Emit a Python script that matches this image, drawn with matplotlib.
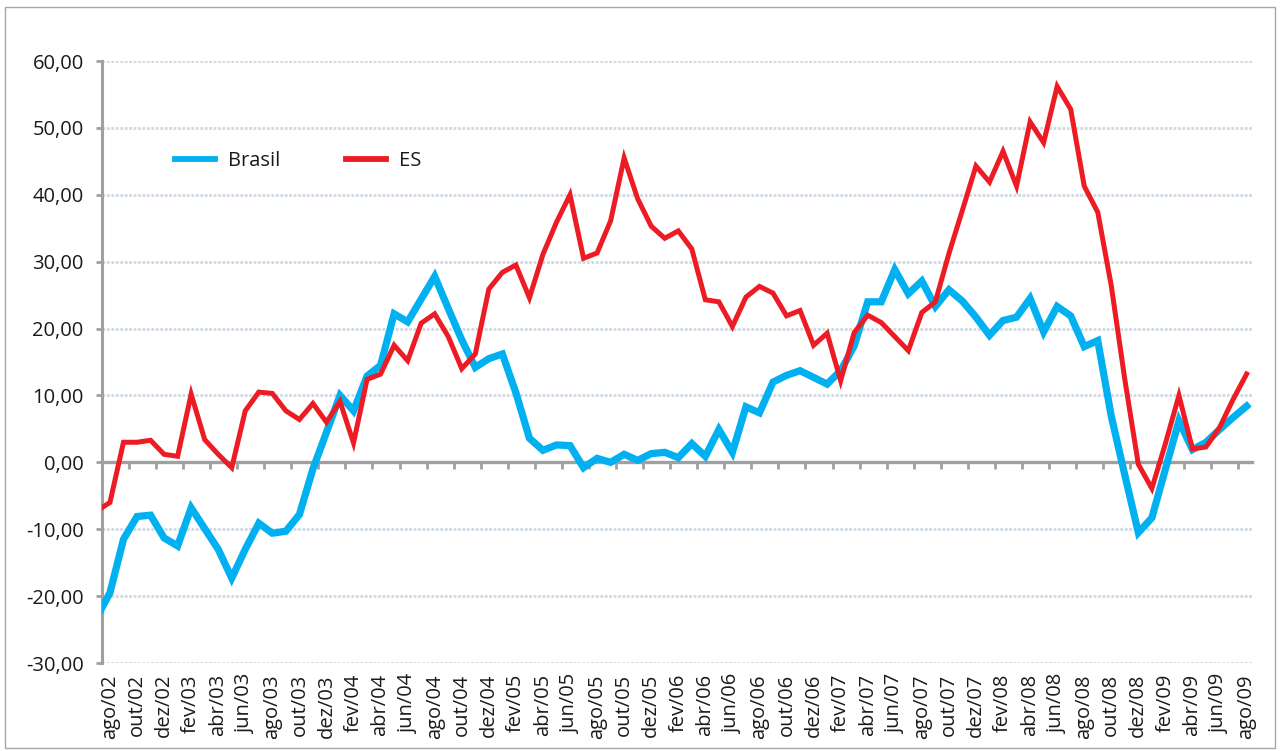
import matplotlib.pyplot as plt
from matplotlib.patches import Rectangle
from matplotlib.ticker import FuncFormatter

plt.rcParams['font.family'] = ['Open Sans', 'DejaVu Sans']

meses = ['jan', 'fev', 'mar', 'abr', 'mai', 'jun', 'jul', 'ago', 'set', 'out', 'nov', 'dez']

# monthly series, jul/02 .. ago/09 (jul/02 sits just left of the axis and is cut off)
brasil = [-23.3, -19.5, -11.5, -8.1, -7.9, -11.3, -12.5, -6.8, -9.9, -13.0,
          -17.3, -13.0, -9.1, -10.6, -10.3, -7.8, -1.0, 4.5, 10.0, 7.7,
          12.9, 14.5, 22.2, 21.0, 24.4, 27.8, 23.0, 18.3, 14.2, 15.5,
          16.2, 10.4, 3.6, 1.8, 2.6, 2.5, -0.8, 0.6, 0.0, 1.2,
          0.3, 1.3, 1.5, 0.7, 2.8, 0.9, 4.9, 1.5, 8.3, 7.4,
          12.0, 13.0, 13.7, 12.7, 11.7, 13.7, 17.4, 24.0, 24.0, 28.8,
          25.2, 27.1, 23.3, 25.8, 24.1, 21.7, 19.0, 21.2, 21.7, 24.5,
          19.5, 23.3, 21.9, 17.3, 18.2, 6.9, -1.9, -10.5, -8.3, -1.0,
          6.2, 1.9, 3.0, 4.9, 6.7, 8.4]
es = [-7.3, -6.0, 3.0, 3.0, 3.3, 1.2, 0.9, 10.2, 3.4, 1.2,
      -0.8, 7.7, 10.5, 10.3, 7.7, 6.4, 8.8, 6.0, 9.1, 2.9,
      12.4, 13.2, 17.5, 15.2, 20.8, 22.2, 18.8, 14.0, 16.2, 25.9,
      28.4, 29.5, 24.6, 31.1, 35.9, 40.0, 30.5, 31.3, 36.1, 45.5,
      39.4, 35.3, 33.5, 34.6, 31.9, 24.3, 24.0, 20.3, 24.7, 26.3,
      25.3, 21.9, 22.7, 17.5, 19.3, 12.2, 19.4, 22.0, 20.9, 18.8,
      16.7, 22.4, 24.0, 31.2, 37.7, 44.3, 41.9, 46.5, 41.3, 50.9,
      47.8, 56.2, 52.8, 41.3, 37.4, 26.4, 12.4, -0.3, -3.9, 2.8,
      10.0, 2.0, 2.3, 5.2, 9.4, 13.2]

x = list(range(-1, len(brasil) - 1))
# labels every two months from ago/02
rotulos = []
for k in range(0, 85, 2):
    m = (7 + k) % 12
    a = 2 + (7 + k) // 12
    rotulos.append('%s/%02d' % (meses[m], a))

fig = plt.figure(figsize=(12.8, 7.51), dpi=100)
fig.patches.append(Rectangle((5 / 1280, 3 / 751), 1270 / 1280, 741 / 751,
                             transform=fig.transFigure, fill=False,
                             edgecolor='#a6a6a6', lw=1))
ax = fig.add_axes([101.7 / 1280, 1 - 663 / 751, (1252 - 101.7) / 1280, (663 - 61) / 751])

ax.plot(x, brasil, color='#00b0f0', lw=5.2, label='Brasil', solid_joinstyle='miter', zorder=3)
ax.plot(x, es, color='#ed1c24', lw=3.6, label='ES', solid_joinstyle='miter', zorder=4)

ax.set_xlim(-0.61, 84.4)
ax.set_ylim(-30, 60)
ax.set_yticks(range(-30, 61, 10))
ax.yaxis.set_major_formatter(FuncFormatter(lambda v, p: ('%.2f' % v).replace('.', ',')))
ax.grid(axis='y', color='#cfd9e2', lw=2, ls=(0, (1, 0.6)))
ax.set_axisbelow(True)

for s in ['top', 'right', 'bottom']:
    ax.spines[s].set_visible(False)
ax.spines['left'].set_color('#a0a0a0')
ax.spines['left'].set_linewidth(2.2)
ax.tick_params(axis='y', direction='out', length=4, width=2, color='#a0a0a0',
               labelsize=14.5, labelcolor='#1a1a1a', pad=9)

ax.set_xticks(range(0, 85, 2))
ax.set_xticklabels(rotulos, rotation=90, fontsize=14.5, color='#1a1a1a')
ax.tick_params(axis='x', length=0, pad=8)

# horizontal axis line crossing at zero
eixo = ax.secondary_xaxis(1 / 3)
eixo.set_zorder(2)
eixo.spines['bottom'].set_color('#a0a0a0')
eixo.spines['bottom'].set_linewidth(2.4)
eixo.set_xticks([k + 1.4 for k in range(0, 84, 2)])
eixo.tick_params(direction='out', length=5, width=2, color='#a0a0a0', labelbottom=False)

leg = ax.legend(loc='upper left', bbox_to_anchor=(0.048, 0.881), ncol=2, frameon=False,
                fontsize=14.5, handlelength=2.0, handletextpad=0.65, columnspacing=3.25,
                labelcolor='#1a1a1a')
for h in leg.get_lines():
    h.set_linewidth(4.2)

fig.savefig('out.png', dpi=100, facecolor='white')
